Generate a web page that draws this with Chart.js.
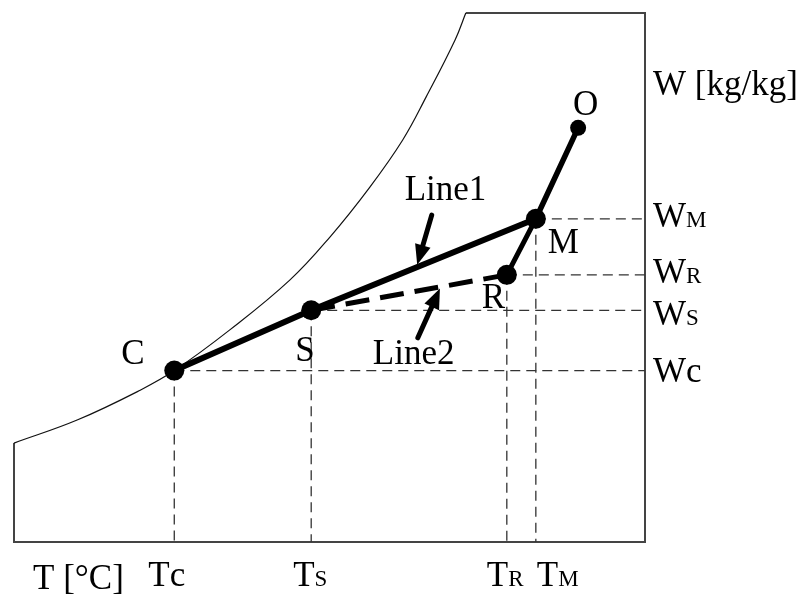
<!DOCTYPE html>
<html>
<head>
<meta charset="utf-8">
<script src="https://cdn.jsdelivr.net/npm/chart.js@4/dist/chart.umd.min.js"></script>
<style>
  html, body { margin: 0; padding: 0; background: #fff; }
  #wrap { width: 807px; height: 599px; }
</style>
</head>
<body>
<div id="wrap"><canvas id="chart" width="807" height="599"></canvas></div>
<script>
// State points of the mixing / cooling process (T in relative units, W in relative units)
const stateNames = ['C', 'S', 'R', 'M', 'O'];
const stateT = [25.4, 47.1, 78.1, 82.7, 89.4];
const stateW = [32.4, 43.8, 50.5, 61.1, 78.3];

// Saturation curve samples
const satT = [0, 10.1, 20.0, 25.4, 34.2, 43.7, 50.1, 56.4, 61.6, 65.3, 69.9, 71.6];
const satW = [18.7, 23.1, 28.7, 32.4, 40.1, 49.5, 57.7, 67.1, 76.0, 84.1, 94.9, 100];

// Axis markers (drawn for C, S, R, M)
const tTickBase = 'T';
const tTickSubs = ['c', 'S', 'R', 'M'];
const wTickBase = 'W';
const wTickSubs = ['c', 'S', 'R', 'M'];
const xTitle = 'T [°C]';
const yTitle = 'W [kg/kg]';

// Annotated process lines: label, arrow tail and arrow tip (data units)
const lineNames = ['Line1', 'Line2'];
const arrowTail = [[66.2, 61.8], [64.0, 38.6]];
const arrowTip = [[63.9, 52.4], [67.5, 47.9]];

const AX_MIN = 0, AX_MAX = 100;

const idx = n => stateNames.indexOf(n);
const pt = n => ({ x: stateT[idx(n)], y: stateW[idx(n)] });

const FONT = '"Liberation Serif", "Times New Roman", serif';
const BIG = 35, SMALL = 23;

// ---- datasets ----
const datasets = [];

// state point dots
datasets.push({
  label: 'points',
  data: ['C', 'S', 'R', 'M'].map(pt),
  showLine: false,
  pointRadius: 10,
  pointBackgroundColor: '#000',
  pointBorderWidth: 0,
  order: 0,
  clip: false
});
datasets.push({
  label: 'outdoor',
  data: [pt('O')],
  showLine: false,
  pointRadius: 8,
  pointBackgroundColor: '#000',
  pointBorderWidth: 0,
  order: 0,
  clip: false
});

// process lines
const solid = (pts, w) => ({
  data: pts.map(pt), showLine: true, borderColor: '#000', borderWidth: w,
  pointRadius: 0, order: 1, clip: false, borderCapStyle: 'round'
});
datasets.push(solid(['C', 'S', 'M'], 6));
datasets.push(solid(['M', 'O'], 5.5));
datasets.push(solid(['M', 'R'], 5));
datasets.push({
  data: ['S', 'R'].map(pt), showLine: true, borderColor: '#000', borderWidth: 5,
  borderDash: [24, 11], pointRadius: 0, order: 1, clip: false
});

// thin guide lines to both axes
['C', 'S', 'R', 'M'].forEach(n => {
  const p = pt(n);
  const guide = d => ({
    data: d, showLine: true, borderColor: '#333', borderWidth: 1.3,
    borderDash: [10, 6], pointRadius: 0, order: 3, clip: false
  });
  datasets.push(guide([{ x: p.x, y: p.y }, { x: AX_MAX, y: p.y }]));
  datasets.push(guide([{ x: p.x, y: p.y }, { x: p.x, y: AX_MIN }]));
});

// saturation curve
datasets.push({
  data: satT.map((t, i) => ({ x: t, y: satW[i] })),
  showLine: true, borderColor: '#111', borderWidth: 1.2,
  tension: 0.4, pointRadius: 0, order: 4, clip: false
});

// chart frame (open at the upper left where the curve bounds the chart)
datasets.push({
  data: [
    { x: satT[0], y: satW[0] }, { x: AX_MIN, y: AX_MIN }, { x: AX_MAX, y: AX_MIN },
    { x: AX_MAX, y: AX_MAX }, { x: satT[satT.length - 1], y: AX_MAX }
  ],
  showLine: true, borderColor: '#444', borderWidth: 2,
  pointRadius: 0, order: 4, clip: false
});

// ---- text and arrows ----
function drawSubText(ctx, base, sub, x, y) {
  ctx.font = BIG + 'px ' + FONT;
  ctx.fillText(base, x, y);
  const w = ctx.measureText(base).width;
  const lower = sub === sub.toLowerCase();
  ctx.font = (lower ? BIG : SMALL) + 'px ' + FONT;
  ctx.fillText(sub, x + w, y);
}

function drawArrow(ctx, x0, y0, x1, y1) {
  const ang = Math.atan2(y1 - y0, x1 - x0);
  const headLen = 20, headHalf = 8;
  const bx = x1 - headLen * Math.cos(ang), by = y1 - headLen * Math.sin(ang);
  ctx.save();
  ctx.strokeStyle = '#000';
  ctx.fillStyle = '#000';
  ctx.lineWidth = 5;
  ctx.lineCap = 'round';
  ctx.beginPath();
  ctx.moveTo(x0, y0);
  ctx.lineTo(bx, by);
  ctx.stroke();
  ctx.beginPath();
  ctx.moveTo(x1, y1);
  ctx.lineTo(bx + headHalf * Math.sin(ang), by - headHalf * Math.cos(ang));
  ctx.lineTo(bx - headHalf * Math.sin(ang), by + headHalf * Math.cos(ang));
  ctx.closePath();
  ctx.fill();
  ctx.restore();
}

// offsets (px) of the letters naming each state point
const pointLabelOffset = { O: [-5, -13], M: [12, 34], R: [-25, 33], S: [-16, 51], C: [-53, -7] };
// offsets (px) of the temperature markers below the axis
const tTickDx = [-26, -18, -20, 1];
// baseline offsets (px) of the humidity markers beside the axis
const wTickDy = [11, 15, 8, 8];
// label placement relative to each arrow's tail (px)
const lineLabelOffset = [[-27, -15], [-45, 26]];

const annotate = {
  id: 'annotate',
  afterDatasetsDraw(chart) {
    const ctx = chart.ctx;
    const xs = chart.scales.x, ys = chart.scales.y;
    const area = chart.chartArea;
    ctx.save();
    ctx.fillStyle = '#000';
    ctx.textBaseline = 'alphabetic';
    ctx.textAlign = 'left';

    // arrows
    lineNames.forEach((name, i) => {
      const tx = xs.getPixelForValue(arrowTail[i][0]), ty = ys.getPixelForValue(arrowTail[i][1]);
      const hx = xs.getPixelForValue(arrowTip[i][0]), hy = ys.getPixelForValue(arrowTip[i][1]);
      drawArrow(ctx, tx, ty, hx, hy);
      ctx.font = BIG + 'px ' + FONT;
      ctx.fillText(name, tx + lineLabelOffset[i][0], ty + lineLabelOffset[i][1]);
    });

    // point letters
    ctx.font = BIG + 'px ' + FONT;
    stateNames.forEach((n, i) => {
      const px = xs.getPixelForValue(stateT[i]), py = ys.getPixelForValue(stateW[i]);
      const o = pointLabelOffset[n];
      ctx.fillText(n, px + o[0], py + o[1]);
    });

    // temperature axis
    const baseY = area.bottom + 44;
    ctx.font = BIG + 'px ' + FONT;
    ctx.fillText(xTitle, area.left + 19, baseY + 3);
    tTickSubs.forEach((s, i) => {
      const px = xs.getPixelForValue(stateT[i]);
      drawSubText(ctx, tTickBase, s, px + tTickDx[i], baseY);
    });

    // humidity axis
    const lx = area.right + 8;
    ctx.font = BIG + 'px ' + FONT;
    ctx.fillText(yTitle, lx, area.top + 82);
    wTickSubs.forEach((s, i) => {
      const py = ys.getPixelForValue(stateW[i]);
      drawSubText(ctx, wTickBase, s, lx, py + wTickDy[i]);
    });
    ctx.restore();
  }
};

new Chart(document.getElementById('chart'), {
  type: 'scatter',
  data: { datasets },
  options: {
    responsive: false,
    animation: false,
    events: [],
    layout: { padding: { left: 14, right: 162, top: 13, bottom: 57 } },
    plugins: { legend: { display: false }, tooltip: { enabled: false } },
    scales: {
      x: { type: 'linear', min: AX_MIN, max: AX_MAX, display: false },
      y: { type: 'linear', min: AX_MIN, max: AX_MAX, display: false }
    }
  },
  plugins: [annotate]
});
</script>
</body>
</html>
